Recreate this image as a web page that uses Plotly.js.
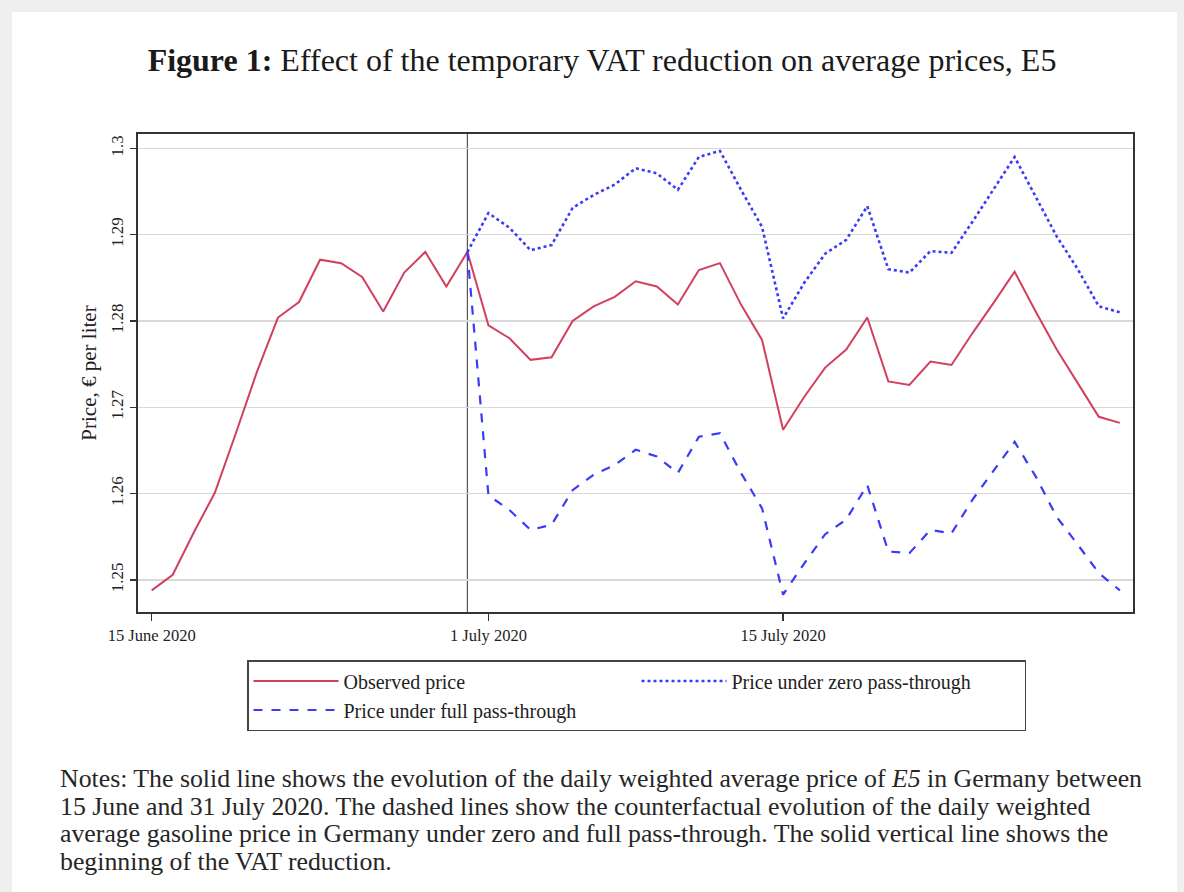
<!DOCTYPE html>
<html>
<head>
<meta charset="utf-8">
<script src="https://cdn.plot.ly/plotly-3.0.1.min.js"></script>
<style>
  html, body { margin: 0; padding: 0; background: #efefef; width: 1184px; height: 892px; overflow: hidden; }
  #chart { position: absolute; left: 12px; top: 12px; width: 1165px; height: 880px; background: #ffffff; }
</style>
</head>
<body>
<div id="chart"></div>
<script>
// ---- Data ----
const dates = [
  "2020-06-15","2020-06-16","2020-06-17","2020-06-18","2020-06-19","2020-06-20","2020-06-21","2020-06-22",
  "2020-06-23","2020-06-24","2020-06-25","2020-06-26","2020-06-27","2020-06-28","2020-06-29","2020-06-30",
  "2020-07-01","2020-07-02","2020-07-03","2020-07-04","2020-07-05","2020-07-06","2020-07-07","2020-07-08",
  "2020-07-09","2020-07-10","2020-07-11","2020-07-12","2020-07-13","2020-07-14","2020-07-15","2020-07-16",
  "2020-07-17","2020-07-18","2020-07-19","2020-07-20","2020-07-21","2020-07-22","2020-07-23","2020-07-24",
  "2020-07-25","2020-07-26","2020-07-27","2020-07-28","2020-07-29","2020-07-30","2020-07-31"
];
const observedPrice = [
  1.2488, 1.2506, 1.2555, 1.2601, 1.2670, 1.2741, 1.2804, 1.2822,
  1.2871, 1.2867, 1.2851, 1.2811, 1.2856, 1.2880, 1.2840, 1.2880,
  1.2795, 1.2780, 1.2755, 1.2758, 1.2800, 1.2817, 1.2828, 1.2846,
  1.2840, 1.2819, 1.2859, 1.2867, 1.2819, 1.2778, 1.2674, 1.2712,
  1.2746, 1.2767, 1.2804, 1.2730, 1.2726, 1.2753, 1.2749, 1.2786,
  1.2821, 1.2857, 1.2811, 1.2767, 1.2728, 1.2689, 1.2682
];
const vatDates = dates.slice(15); // 30 June – 31 July
const zeroPassThrough = [
  1.2880, 1.2925, 1.2908, 1.2882, 1.2888, 1.2931, 1.2946, 1.2958,
  1.2977, 1.2971, 1.2952, 1.2990, 1.2997, 1.2952, 1.2909, 1.2803,
  1.2844, 1.2878, 1.2894, 1.2933, 1.2860, 1.2856, 1.2881, 1.2879,
  1.2915, 1.2952, 1.2990, 1.2944, 1.2898, 1.2860, 1.2817, 1.2810
];
const fullPassThrough = [
  1.2880, 1.2598, 1.2581, 1.2558, 1.2564, 1.2604, 1.2622, 1.2633,
  1.2651, 1.2643, 1.2624, 1.2666, 1.2670, 1.2624, 1.2583, 1.2483,
  1.2519, 1.2553, 1.2570, 1.2610, 1.2533, 1.2531, 1.2558, 1.2554,
  1.2593, 1.2627, 1.2660, 1.2620, 1.2573, 1.2541, 1.2508, 1.2488
];
const seriesNames = ["Observed price", "Price under zero pass-through", "Price under full pass-through"];
const yTickVals = [1.25, 1.26, 1.27, 1.28, 1.29, 1.30];
const yTickText = ["1.25", "1.26", "1.27", "1.28", "1.29", "1.3"];
const xTickVals = ["2020-06-15", "2020-07-01", "2020-07-15"];
const xTickText = ["15 June 2020", "1 July 2020", "15 July 2020"];
const vatStart = "2020-06-30";
const titleText = "<b>Figure 1:</b> Effect of the temporary VAT reduction on average prices, E5";
const yTitle = "Price, € per liter";
const noteLines = [
  "Notes: The solid line shows the evolution of the daily weighted average price of <i>E5</i> in Germany between",
  "15 June and 31 July 2020. The dashed lines show the counterfactual evolution of the daily weighted",
  "average gasoline price in Germany under zero and full pass-through. The solid vertical line shows the",
  "beginning of the VAT reduction."
];

// ---- Styling ----
const SERIF = "Liberation Serif, Times New Roman, serif";
const RED = "#d2405e";
const BLUE = "#3b3bf7";

const traces = [
  { x: dates, y: observedPrice, name: seriesNames[0], type: "scatter", mode: "lines",
    line: { color: RED, width: 2 } },
  { x: vatDates, y: zeroPassThrough, name: seriesNames[1], type: "scatter", mode: "lines",
    line: { color: BLUE, width: 2.6, dash: "dot" } },
  { x: vatDates, y: fullPassThrough, name: seriesNames[2], type: "scatter", mode: "lines",
    line: { color: BLUE, width: 2.2, dash: "dash" } }
];

// plot area in page: x 138..1133, y 134..612 ; div at (12,12)
const plotTop = 134, plotBottom = 612;
const pH = plotBottom - plotTop;
const py = (pageY) => (plotBottom - pageY) / pH;
const px = (pageX) => (pageX - 138) / 995;

const annotations = noteLines.map((t, i) => ({
  text: t, xref: "paper", yref: "paper",
  x: px(58), y: py([778, 806, 833, 861][i]),
  xanchor: "left", yanchor: "middle", showarrow: false, align: "left",
  font: { family: SERIF, size: 25.8, color: "#262626" }
}));

const layout = {
  width: 1165, height: 880,
  paper_bgcolor: "#ffffff", plot_bgcolor: "#ffffff",
  margin: { l: 126, r: 44, t: 122, b: 280 },
  title: { text: titleText, x: 590 / 1165, xanchor: "center", xref: "container",
           y: 1 - 48 / 880, yanchor: "middle", yref: "container",
           font: { family: SERIF, size: 32, color: "#1a1a1a" } },
  showlegend: true,
  legend: {
    orientation: "h", x: px(247), xanchor: "left", y: py(660), yanchor: "top",
    bordercolor: "#444", borderwidth: 1.5, bgcolor: "#ffffff",
    font: { family: SERIF, size: 20, color: "#222" },
    entrywidth: 288, itemwidth: 85, traceorder: "normal", tracegroupgap: 0
  },
  xaxis: {
    type: "date", range: ["2020-06-14 08:24", "2020-07-31 15:00"],
    tickvals: xTickVals, ticktext: xTickText,
    ticks: "outside", ticklen: 7, tickwidth: 1.5, tickcolor: "#333",
    tickfont: { family: SERIF, size: 16.5, color: "#222" },
    showgrid: false, zeroline: false,
    showline: true, mirror: true, linecolor: "#333", linewidth: 2
  },
  yaxis: {
    range: [1.24629, 1.30166],
    tickvals: yTickVals, ticktext: yTickText, tickangle: -90,
    ticks: "outside", ticklen: 6, tickwidth: 1.5, tickcolor: "#333",
    tickfont: { family: SERIF, size: 17, color: "#222" },
    showgrid: true, gridcolor: "#d9d9d9", gridwidth: 1.5, zeroline: false,
    showline: true, mirror: true, linecolor: "#333", linewidth: 2,
    title: { text: yTitle, font: { family: SERIF, size: 21, color: "#222" }, standoff: 6 }
  },
  shapes: [
    { type: "line", xref: "x", yref: "paper", x0: vatStart, x1: vatStart, y0: 0, y1: 1,
      line: { color: "#555", width: 1.2 }, layer: "below" }
  ],
  annotations: annotations
};

Plotly.newPlot("chart", traces, layout, { displayModeBar: false, staticPlot: true });
</script>
</body>
</html>
